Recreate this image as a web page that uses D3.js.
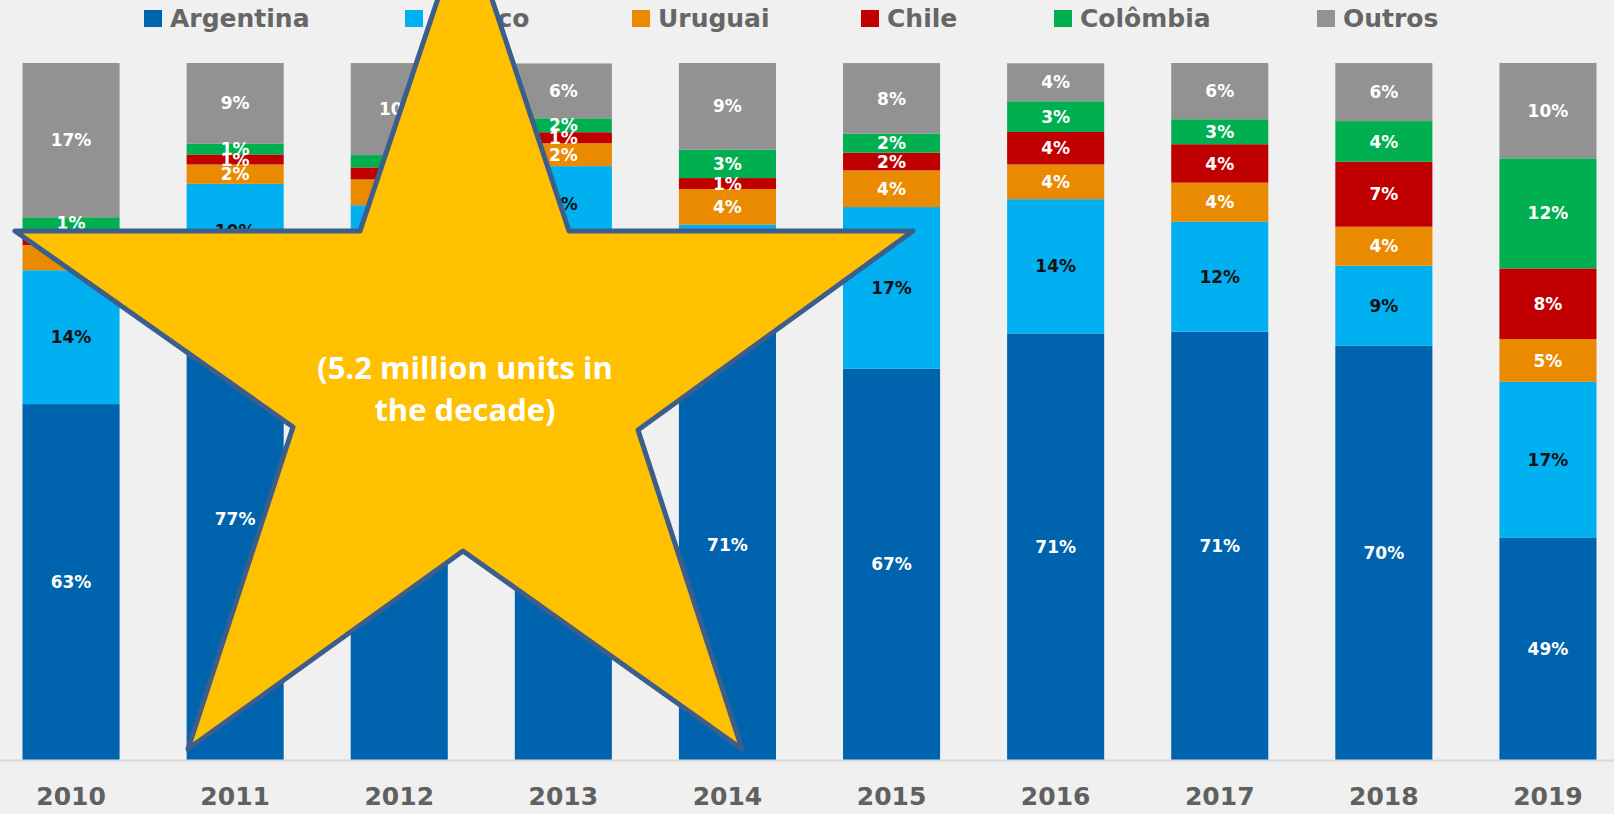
<!DOCTYPE html>
<html>
<head>
<meta charset="utf-8">
<script src="https://cdn.jsdelivr.net/npm/d3@7"></script>
<style>
  html, body { margin: 0; padding: 0; background: #F0F0F0; overflow: hidden; }
  svg { display: block; }
</style>
</head>
<body>
<svg id="chart" width="1614" height="814"></svg>
<script>
// ---- data (share of units, %) ----
const years = ["2010","2011","2012","2013","2014","2015","2016","2017","2018","2019"];
const argentina = [63.3, 76.8, 72.0, 80.7, 71.2, 67.1, 70.9, 71.09, 69.58, 48.9];
const mexico    = [14.4, 10.2, 12.7, 8.2, 11.4, 17.4, 14.45, 11.84, 8.6, 16.8];
const uruguai   = [2.7, 2.08, 2.77, 2.47, 3.84, 3.95, 3.73, 4.2, 4.2, 4.6];
const chile     = [1.7, 1.08, 1.29, 1.18, 1.18, 1.9, 3.5, 4.13, 6.99, 7.6];
const colombia  = [1.3, 1.15, 1.33, 1.5, 3.05, 2.04, 3.3, 2.69, 4.38, 11.84];
const outros    = [16.6, 8.7, 9.9, 5.9, 9.36, 7.6, 4.09, 6.06, 6.24, 10.26];
const seriesNames = ["Argentina","México","Uruguai","Chile","Colômbia","Outros"];
const seriesColors = ["#0063AD","#00B0F0","#EA8A00","#C00000","#00B050","#929292"];
const labelColors = ["#FFFFFF","#111111","#FFFFFF","#FFFFFF","#FFFFFF","#FFFFFF"];
const yDomain = [25, 100];
const starText = ["(5.2 million units in", "the decade)"];

// ---- build table ----
const seriesValues = [argentina, mexico, uruguai, chile, colombia, outros];
const table = years.map((yr, i) => {
  const row = { year: yr };
  seriesNames.forEach((n, k) => row[n] = seriesValues[k][i]);
  return row;
});

const svg = d3.select("#chart");
const W = 1614, H = 814;

svg.append("rect").attr("width", W).attr("height", H).attr("fill", "#F0F0F0");

const x = d3.scaleBand().domain(years).range([2, 1617]).paddingInner(0.4085).paddingOuter(0.125);
const y = d3.scaleLinear().domain(yDomain).range([760, 63]).clamp(true);
const color = d3.scaleOrdinal().domain(seriesNames).range(seriesColors);
const lblColor = d3.scaleOrdinal().domain(seriesNames).range(labelColors);

const stacked = d3.stack().keys(seriesNames)(table);

const g = svg.append("g");
const layers = g.selectAll("g.layer").data(stacked).join("g")
  .attr("class", "layer")
  .attr("fill", d => color(d.key));

layers.selectAll("rect").data(d => d).join("rect")
  .attr("x", d => x(d.data.year))
  .attr("width", x.bandwidth())
  .attr("y", d => y(d[1]))
  .attr("height", d => y(d[0]) - y(d[1]));

// value labels
const lblG = svg.append("g")
  .attr("font-family", "'DejaVu Sans', sans-serif")
  .attr("font-weight", "bold")
  .attr("font-size", 17)
  .attr("text-anchor", "middle");
stacked.forEach(layer => {
  lblG.selectAll(null).data(layer).join("text")
    .attr("x", d => x(d.data.year) + x.bandwidth() / 2)
    .attr("y", d => (y(d[0]) + y(d[1])) / 2)
    .attr("dy", "0.36em")
    .attr("fill", lblColor(layer.key))
    .text(d => Math.round(d[1] - d[0]) + "%");
});

// x axis
const axis = svg.append("g")
  .attr("transform", "translate(0,760.5)")
  .call(d3.axisBottom(x).tickSize(0).tickSizeOuter(0).tickPadding(27));
axis.select(".domain").attr("stroke", "#D9D9D9").attr("stroke-width", 2)
  .attr("d", "M0,0H" + W);
axis.selectAll("text")
  .attr("font-family", "'DejaVu Sans', sans-serif")
  .attr("font-weight", "bold")
  .attr("font-size", 25)
  .attr("fill", "#606060");

// legend
const legendX = [144, 405, 632, 861, 1054, 1317];
const leg = svg.append("g").selectAll("g").data(seriesNames).join("g")
  .attr("transform", (d, i) => `translate(${legendX[i]},0)`);
leg.append("rect").attr("x", 0).attr("y", 10).attr("width", 18).attr("height", 17)
  .attr("fill", d => color(d));
leg.append("text").attr("x", 26).attr("y", 27)
  .attr("font-family", "'DejaVu Sans', sans-serif")
  .attr("font-weight", "bold")
  .attr("font-size", 25)
  .attr("fill", "#666666")
  .text(d => d);

// star annotation
const starPts = [[465,-82],[569,231],[913,231],[638,430],[742,749],[463,551],[188,749],[293,427],[15,231],[360,231]];
svg.append("path")
  .attr("d", d3.line()(starPts) + "Z")
  .attr("fill", "#FFC000")
  .attr("stroke", "#3B5E8C")
  .attr("stroke-width", 5)
  .attr("stroke-linejoin", "round");
svg.append("g")
  .attr("font-family", "'Open Sans', sans-serif")
  .attr("font-weight", "bold")
  .attr("font-size", 31)
  .attr("fill", "#FFFFFF")
  .attr("text-anchor", "middle")
  .selectAll("text").data(starText).join("text")
  .attr("x", 465)
  .attr("y", (d, i) => 368.5 + i * 41.5)
  .attr("dy", "0.35em")
  .text(d => d);
</script>
</body>
</html>
